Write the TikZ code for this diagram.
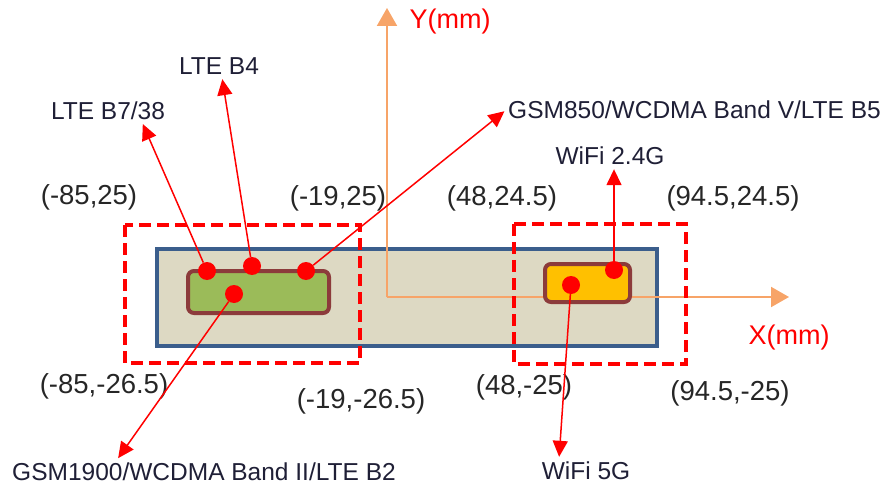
\documentclass[tikz,border=0pt]{standalone}
\usepackage{fontspec}
\setmainfont{Liberation Sans}
\usepackage{tikz}
\usetikzlibrary{arrows.meta,positioning,calc}
\definecolor{boardblue}{HTML}{3B5E8C}
\definecolor{boardtan}{HTML}{DDD9C3}
\definecolor{modulebrown}{HTML}{8C3B3B}
\definecolor{ltegreen}{HTML}{9BBB59}
\definecolor{wifiorange}{HTML}{FFC000}
\definecolor{axisorange}{HTML}{F7A468}
\definecolor{coordtext}{HTML}{262626}
\definecolor{labeltext}{HTML}{1F1F36}

\begin{document}
\begin{tikzpicture}[x=1pt,y=-1pt,
  dot/.style={circle,fill=red,inner sep=0pt,minimum size=18pt},
  pin/.style={red,line width=1.5pt,-{Triangle[length=16pt,width=15pt]},shorten >=2pt},
  band/.style={text=labeltext,font=\fontsize{24.5}{28}\selectfont,inner sep=2pt,
               text height=18pt,text depth=0pt},
  corner/.style={text=coordtext,font=\fontsize{27.5}{32}\selectfont,inner sep=0pt},
  zone/.style={red,line width=4pt,dash pattern=on 12pt off 6pt},
  axis/.style={axisorange,line width=2pt,-{Triangle[length=18pt,width=20pt]}},
  axislabel/.style={red,font=\fontsize{27}{32}\selectfont,inner sep=0pt}]
  \useasboundingbox (0,0) rectangle (890,486);
  % Board outline
  \draw[boardblue,fill=boardtan,line width=4pt] (157,249) rectangle (657,346);
  % Axes
  \coordinate (origin) at (387,297);
  \coordinate (ytip) at (387,8);
  \coordinate (xtip) at (789,297);
  \draw[axis] (origin) -- (ytip);
  \draw[axis] (origin) -- (xtip);
  \node[axislabel] (ylab) at (450,22) {Y(mm)};
  \node[axislabel] (xlab) at (789,338) {X(mm)};
  % Antenna modules
  \draw[modulebrown,fill=ltegreen,line width=4pt,rounded corners=6pt]
    (188,271) rectangle (329,313);
  \draw[modulebrown,fill=wifiorange,line width=4pt,rounded corners=6pt]
    (545,264) rectangle (630,302);
  % Keep-out zones
  \draw[zone] (125,225) rectangle (360,363);
  \draw[zone] (514,224) rectangle (686,364);
  % Zone corners
  \node[corner] (c1) at (89,197) {(-85,25)};
  \node[corner] (c2) at (338,198) {(-19,25)};
  \node[corner] (c3) at (502,198) {(48,24.5)};
  \node[corner] (c4) at (733,198) {(94.5,24.5)};
  \node[corner] (c5) at (104,386) {(-85,-26.5)};
  \node[corner] (c6) at (361,401) {(-19,-26.5)};
  \node[corner] (c7) at (524,387) {(48,-25)};
  \node[corner] (c8) at (730,393) {(94.5,-25)};
  % Feed points
  \node[dot] (d738) at (207,271) {};
  \node[dot] (d4) at (252,266) {};
  \node[dot] (d5) at (306,271) {};
  \node[dot] (d2) at (234,294) {};
  \node[dot] (w24) at (614,270) {};
  \node[dot] (w5) at (571,285) {};
  % Band labels
  \node[band] (b738) at (108,111) {LTE B7/38};
  \node[band] (b4) at (219,66) {LTE B4};
  \node[band,anchor=west] (b5) at (506,110) {GSM850/WCDMA Band V/LTE B5};
  \node[band] (wifi24) at (610,156) {WiFi 2.4G};
  \node[band] (wifi5) at (586,470) {WiFi 5G};
  \node[band] (gsm1900) at (204,471) {GSM1900/WCDMA Band II/LTE B2};
  % Pointers
  \draw[pin] (d738) -- ([xshift=34pt]b738.south);
  \draw[pin] (d4) -- ([xshift=3pt]b4.south);
  \draw[pin] (d5) -- (b5.west);
  \draw[pin] (w24) -- (w24 |- wifi24.south);
  \draw[pin] (w5) -- ([xshift=-27pt]wifi5.north);
  \draw[pin] (d2) -- ([xshift=-87pt]gsm1900.north);
\end{tikzpicture}
\end{document}
